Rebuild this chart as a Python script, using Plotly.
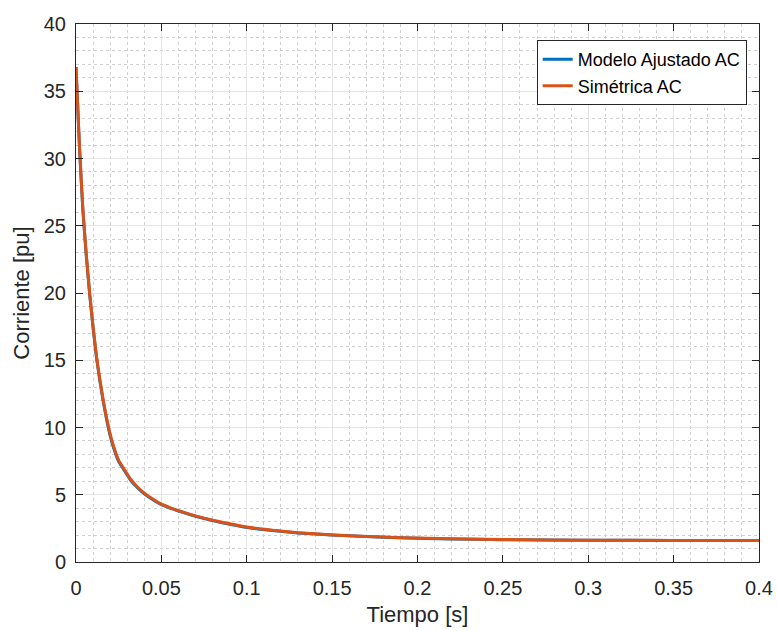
import plotly.graph_objects as go

# Tiempo [s] and current values
t = [0, 0.002, 0.004, 0.006, 0.008, 0.010, 0.012, 0.014, 0.016, 0.018,
     0.020, 0.022, 0.025, 0.028, 0.032, 0.036, 0.040, 0.045, 0.050, 0.055,
     0.060, 0.070, 0.080, 0.090, 0.100, 0.115, 0.130, 0.150, 0.170, 0.190,
     0.220, 0.250, 0.300, 0.350, 0.400]

simetrica_ac = [36.8, 31.0, 26.3, 22.9, 20.0, 17.5, 15.3, 13.55, 12.0, 10.65,
                9.5, 8.6, 7.55, 6.95, 6.15, 5.58, 5.12, 4.68, 4.3, 4.05,
                3.82, 3.43, 3.11, 2.84, 2.6, 2.36, 2.18, 2.01, 1.9, 1.81,
                1.72, 1.67, 1.62, 1.60, 1.59]

modelo_ajustado_ac = [36.8, 30.9, 26.2, 22.8, 19.9, 17.4, 15.2, 13.45, 11.9, 10.55,
                      9.4, 8.5, 7.47, 6.87, 6.08, 5.52, 5.06, 4.63, 4.26, 4.01,
                      3.79, 3.4, 3.08, 2.81, 2.57, 2.34, 2.16, 2.0, 1.89, 1.8,
                      1.71, 1.66, 1.62, 1.60, 1.59]

x_ticks = [0, 0.05, 0.1, 0.15, 0.2, 0.25, 0.3, 0.35, 0.4]
x_labels = ["0", "0.05", "0.1", "0.15", "0.2", "0.25", "0.3", "0.35", "0.4"]
y_ticks = [0, 5, 10, 15, 20, 25, 30, 35, 40]

font = "Liberation Sans, Arial, sans-serif"
axis_color = "#262626"

fig = go.Figure()
fig.add_trace(go.Scatter(x=t, y=modelo_ajustado_ac, mode="lines", name="Modelo Ajustado AC",
                         line=dict(color="#0072BD", width=3, shape="spline", smoothing=0.4)))
fig.add_trace(go.Scatter(x=t, y=simetrica_ac, mode="lines", name="Simétrica AC",
                         line=dict(color="#D95319", width=3, shape="spline", smoothing=0.4)))

axis_common = dict(
    showline=True, linecolor=axis_color, linewidth=1, mirror="ticks",
    ticks="inside", ticklen=7, tickcolor=axis_color, tickwidth=1,
    showgrid=True, gridcolor="#e6e6e6", gridwidth=1, zeroline=False,
    automargin=False,
    tickfont=dict(family=font, size=20, color=axis_color),
)

fig.update_xaxes(
    range=[0, 0.4], tickvals=x_ticks, ticktext=x_labels, ticklabelstandoff=8,
    title=dict(text="Tiempo [s]", font=dict(family=font, size=22, color=axis_color), standoff=8),
    minor=dict(dtick=0.01, showgrid=True, gridcolor="#d0d0d0", griddash="dot", ticks=""),
    **axis_common,
)
fig.update_yaxes(
    range=[0, 40], tickvals=y_ticks, ticklabelstandoff=5,
    title=dict(text="Corriente [pu]", font=dict(family=font, size=22, color=axis_color), standoff=8),
    minor=dict(dtick=1, showgrid=True, gridcolor="#d0d0d0", griddash="dot", ticks=""),
    **axis_common,
)

fig.update_layout(
    width=777, height=631,
    margin=dict(l=76, r=18, t=24, b=69),
    paper_bgcolor="white", plot_bgcolor="white",
    font=dict(family=font, color=axis_color),
    legend=dict(
        x=0.982, y=0.970, xanchor="right", yanchor="top",
        bgcolor="white", bordercolor=axis_color, borderwidth=1,
        font=dict(family=font, size=18, color="black"),
        tracegroupgap=0,
    ),
    showlegend=True,
)

fig.write_html("out.html", config={"displayModeBar": False},
               post_script="document.body.style.margin='0';")
